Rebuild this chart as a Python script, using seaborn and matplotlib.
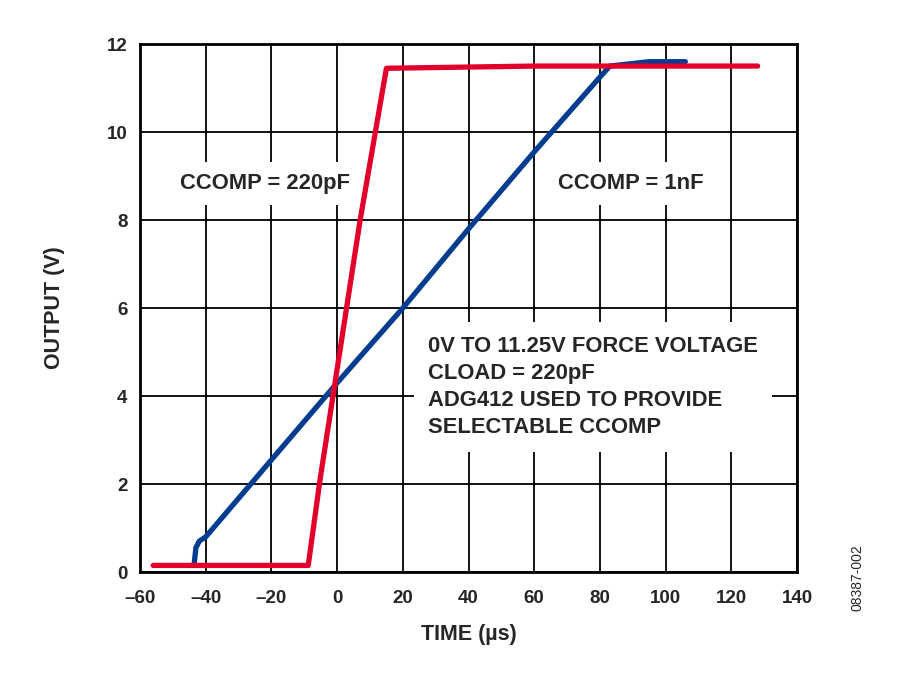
import matplotlib
matplotlib.use("Agg")
import matplotlib.pyplot as plt
import seaborn as sns
import pandas as pd

# traces (time in us, output in V)
red_t = [-56, -30, -8.8, -5.2, 7.0, 15.0, 60, 128]
red_v = [0.15, 0.15, 0.15, 2.1, 8.0, 11.45, 11.5, 11.5]

blue_t = [-43.5, -43.0, -42.0, -40, 0, 20, 40, 60, 80, 83, 95, 106]
blue_v = [0.2, 0.55, 0.7, 0.8, 4.3, 6.0, 7.8, 9.55, 11.25, 11.5, 11.6, 11.6]

x_ticks = [-60, -40, -20, 0, 20, 40, 60, 80, 100, 120, 140]
y_ticks = [0, 2, 4, 6, 8, 10, 12]

red = pd.DataFrame({"t": red_t, "v": red_v})
blue = pd.DataFrame({"t": blue_t, "v": blue_v})

sns.set_style("white")
plt.rcParams["font.family"] = ["Liberation Sans", "DejaVu Sans"]

fig = plt.figure(figsize=(9, 6.76), dpi=100)
ax = fig.add_axes([0.1556, 0.1538, 0.73, 0.781])

sns.lineplot(data=blue, x="t", y="v", color="#003C8F", linewidth=3.8,
             sort=False, estimator=None, ax=ax, zorder=5)
sns.lineplot(data=red, x="t", y="v", color="#E2002B", linewidth=3.8,
             sort=False, estimator=None, ax=ax, zorder=6)

ax.set_xlim(-60, 140)
ax.set_ylim(0, 12)
ax.set_xticks(x_ticks)
ax.set_yticks(y_ticks)
ax.set_xticklabels([f"{t}".replace("-", "\u2013") for t in x_ticks],
                   fontsize=13.5, fontweight="bold")
ax.set_yticklabels([str(t) for t in y_ticks], fontsize=13.5, fontweight="bold")
ax.tick_params(axis="both", length=0)
ax.tick_params(axis="x", pad=13)
ax.tick_params(axis="y", pad=9)

ax.grid(True, color="black", linewidth=1.3)
ax.set_axisbelow(True)
for s in ax.spines.values():
    s.set_color("black")
    s.set_linewidth(2)
    s.set_zorder(7)

ax.set_xlabel("TIME (\u00b5s)", fontsize=15.5, fontweight="bold", labelpad=12)
ax.set_ylabel("OUTPUT (V)", fontsize=15.5, fontweight="bold", labelpad=30)

box = dict(facecolor="white", edgecolor="none", pad=8)
ax.text(-47.8, 8.83, "CCOMP = 220pF", fontsize=15.8, fontweight="bold",
        va="center", ha="left", bbox=box, zorder=4)
ax.text(67.2, 8.83, "CCOMP = 1nF", fontsize=15.8, fontweight="bold",
        va="center", ha="left", bbox=box, zorder=4)
ax.text(27.7, 5.36, "0V TO 11.25V FORCE VOLTAGE\nCLOAD = 220pF\n"
        "ADG412 USED TO PROVIDE\nSELECTABLE CCOMP",
        fontsize=15.8, fontweight="bold", va="top", ha="left",
        linespacing=1.38, bbox=dict(facecolor="white", edgecolor="none", pad=10),
        zorder=4)

fig.text(0.953, 0.145, "08387-002", rotation=90, fontsize=10,
         ha="center", va="center")

fig.savefig("out.png", dpi=100)
